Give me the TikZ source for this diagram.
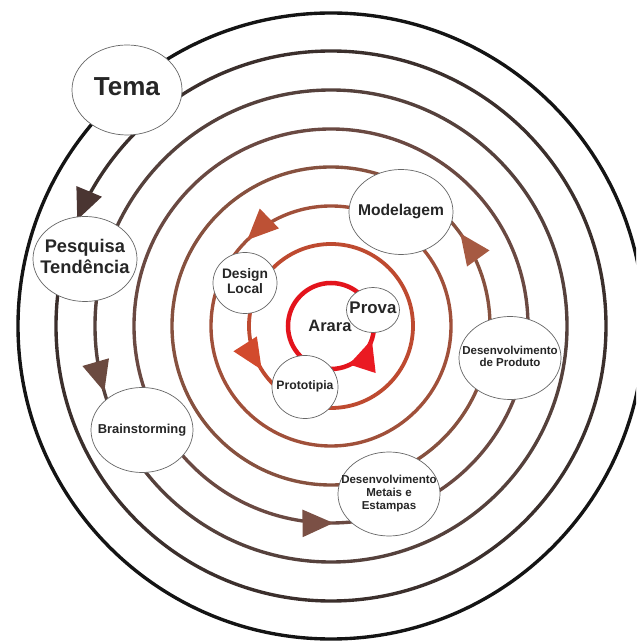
\documentclass[tikz,border=0pt]{standalone}
\usepackage{fontspec}
\setmainfont{Liberation Sans}
\usepackage{tikz}
\usetikzlibrary{shapes.geometric,arrows.meta,decorations.markings}

\definecolor{anelA}{HTML}{141414}
\definecolor{anelB}{HTML}{3B2F2C}
\definecolor{anelC}{HTML}{55413C}
\definecolor{anelD}{HTML}{6A4942}
\definecolor{anelE}{HTML}{86513F}
\definecolor{anelF}{HTML}{A0503A}
\definecolor{anelG}{HTML}{BE4A30}
\definecolor{anelH}{HTML}{E3141C}
\definecolor{setaB}{HTML}{4A3532}
\definecolor{setaC}{HTML}{6B4A40}
\definecolor{setaD}{HTML}{7B5045}
\definecolor{setaE}{HTML}{A65A42}
\definecolor{setaF}{HTML}{BD5135}
\definecolor{setaG}{HTML}{D24A2D}
\definecolor{setaH}{HTML}{EA1A22}
\definecolor{contorno}{HTML}{666666}
\definecolor{texto}{HTML}{262626}

\newcommand{\rotulo}[1]{\makebox[0pt]{\begin{tabular}{@{}c@{}}#1\end{tabular}}}

\begin{document}
\begin{tikzpicture}[x=0.025cm, y=0.025cm,
	etapa/.style={shape=ellipse, draw=contorno, line width=0.5pt, fill=white, inner sep=0pt, text=texto},
	anel/.style={line width=2.4pt},
	seta/.style 2 args={postaction={decorate}, decoration={markings,
		mark=at position #1 with {\arrow[color=#2]{Triangle[length=22pt, width=19pt]}}}}]

	\useasboundingbox (-331,-316) rectangle (305,326);
	\clip (-331,-316) rectangle (305,326);

	% aneis da espiral, de fora para dentro
	\draw[anel, anelA] (0,0) circle[radius=313];
	\draw[anel, anelB, seta={0.437}{setaB}] (0,0) circle[radius=275];
	\draw[anel, anelC, seta={0.545}{setaC}] (0,0) circle[radius=236];
	\draw[anel, anelD, seta={0.752}{setaD}] (0,0) circle[radius=197];
	\draw[anel, anelE, seta={0.099}{setaE}] (0,0) circle[radius=159];
	\draw[anel, anelF, seta={0.373}{setaF}] (0,0) circle[radius=120];
	\draw[anel, anelG, line width=2.7pt, seta={0.590}{setaG}] (0,0) circle[radius=82];
	\draw[anel, anelH, line width=3.2pt, seta={0.950}{setaH}] (0,0) circle[radius=43];

	\node[etapa, minimum width=2.75cm, minimum height=2.25cm, font=\fontsize{18.5}{20}\selectfont] (tema) at (-204,236) {\rotulo{\textbf{Tema}}};
	\node[etapa, minimum width=2.6cm, minimum height=2.125cm, font=\fontsize{13}{15}\selectfont] (pesquisa) at (-246,67) {\rotulo{\textbf{Pesquisa}\\\textbf{Tendência}}};
	\node[etapa, minimum width=2.55cm, minimum height=2.125cm, font=\fontsize{9.2}{11}\selectfont] (brain) at (-189,-104) {\rotulo{\textbf{Brainstorming}}};
	\node[etapa, minimum width=2.55cm, minimum height=2.1cm, font=\fontsize{8.2}{9.4}\selectfont] (metais) at (58,-168) {\rotulo{\textbf{Desenvolvimento}\\\textbf{Metais e}\\\textbf{Estampas}}};
	\node[etapa, minimum width=2.55cm, minimum height=2.075cm, font=\fontsize{8.2}{8.9}\selectfont] (produto) at (179,-32) {\rotulo{\textbf{Desenvolvimento}\\\textbf{de Produto}}};
	\node[etapa, minimum width=2.6cm, minimum height=2.125cm, font=\fontsize{11.1}{13}\selectfont] (modelagem) at (70,114) {\rotulo{\textbf{Modelagem}}};
	\node[etapa, minimum width=1.6cm, minimum height=1.525cm, font=\fontsize{9.8}{10.8}\selectfont] (design) at (-86,43) {\rotulo{\textbf{Design}\\\textbf{Local}}};
	\node[etapa, minimum width=1.65cm, minimum height=1.575cm, font=\fontsize{8.7}{10}\selectfont] (proto) at (-26,-61) {\rotulo{\textbf{Prototipia}}};
	\node[etapa, minimum width=1.325cm, minimum height=1.125cm, font=\fontsize{12}{14}\selectfont] (prova) at (42,16) {\rotulo{\textbf{Prova}}};

	\node[text=texto, inner sep=0pt, font=\fontsize{11.7}{14}\selectfont] (arara) at (-1,0) {\textbf{Arara}};
\end{tikzpicture}
\end{document}
